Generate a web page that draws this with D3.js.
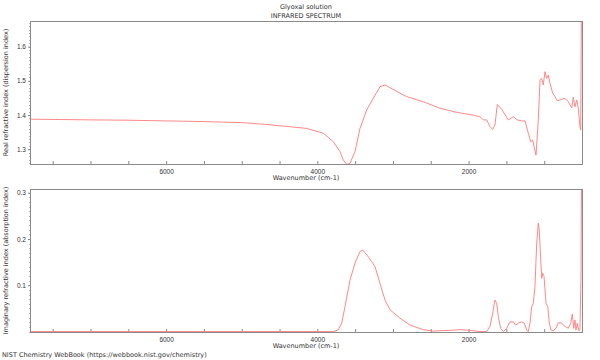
<!DOCTYPE html>
<html>
<head>
<meta charset="utf-8">
<script src="https://cdn.jsdelivr.net/npm/d3@7"></script>
<style>
  html, body { margin: 0; padding: 0; background: #ffffff; }
  svg { display: block; font-family: "DejaVu Sans", sans-serif; }
</style>
</head>
<body>
<svg id="chart" width="600" height="360"></svg>
<script>
// wavenumber (cm-1) and real refractive index n
const realWn = [7800, 7400, 7000, 6500, 6000, 5500, 5000, 4700, 4362, 4141, 3921, 3789, 3700, 3657, 3612, 3568, 3502, 3436, 3347, 3260, 3171, 3105, 3039, 2907, 2818, 2599, 2378, 2157, 1937, 1849, 1805, 1760, 1717, 1681, 1651, 1620, 1562, 1475, 1409, 1356, 1298, 1254, 1210, 1178, 1152, 1134, 1108, 1078, 1055, 1033, 1012, 989, 967, 946, 923, 888, 857, 827, 769, 725, 681, 636, 615, 593, 570, 549, 527, 517, 500];
const realN = [1.388, 1.387, 1.386, 1.385, 1.383, 1.381, 1.378, 1.373, 1.366, 1.361, 1.347, 1.322, 1.293, 1.269, 1.256, 1.259, 1.293, 1.361, 1.415, 1.449, 1.483, 1.488, 1.480, 1.464, 1.454, 1.439, 1.420, 1.408, 1.400, 1.395, 1.386, 1.386, 1.366, 1.358, 1.371, 1.431, 1.417, 1.386, 1.395, 1.386, 1.383, 1.383, 1.347, 1.322, 1.327, 1.307, 1.283, 1.386, 1.502, 1.507, 1.488, 1.527, 1.507, 1.517, 1.493, 1.464, 1.454, 1.442, 1.446, 1.449, 1.439, 1.421, 1.452, 1.424, 1.444, 1.420, 1.366, 1.356, 2.0];

// wavenumber (cm-1) and imaginary refractive index k
const imagWn = [7800, 6000, 5000, 4200, 3789, 3723, 3678, 3634, 3568, 3502, 3436, 3400, 3347, 3281, 3237, 3171, 3105, 3039, 2907, 2775, 2600, 2467, 2338, 2200, 2113, 2021, 1900, 1849, 1760, 1717, 1681, 1651, 1628, 1607, 1575, 1541, 1496, 1452, 1409, 1377, 1342, 1298, 1263, 1231, 1210, 1188, 1165, 1144, 1122, 1099, 1078, 1065, 1046, 1033, 1020, 1002, 976, 953, 932, 910, 880, 844, 814, 769, 725, 681, 649, 628, 610, 593, 580, 562, 544, 527, 513, 500];
const imagK = [0, 0, 0, 0, 0, 0.0035, 0.018, 0.054, 0.111, 0.148, 0.173, 0.176, 0.166, 0.151, 0.140, 0.104, 0.068, 0.047, 0.029, 0.014, 0.004, 0.001, 0.002, 0.003, 0.004, 0.003, 0.001, 0, 0, 0.011, 0.040, 0.068, 0.061, 0.032, 0.007, 0, 0.007, 0.021, 0.021, 0.014, 0.018, 0.021, 0.018, 0.003, 0, 0.018, 0.054, 0.061, 0.097, 0.191, 0.234, 0.219, 0.155, 0.115, 0.126, 0.119, 0.061, 0.054, 0.018, 0.0035, 0.002, 0.007, 0.019, 0.018, 0.011, 0.007, 0.018, 0.038, 0.007, 0.025, 0.0035, 0.018, 0.002, 0.0035, 0.12, 0.5];

const xTicks = [2000, 4000, 6000];
const realTicks = [1.3, 1.4, 1.5, 1.6];
const imagTicks = [0.1, 0.2, 0.3];

const svg = d3.select("#chart");
const left = 30, right = 582;
const lineColor = "#ff7a7a";
const frameColor = "#8a8a8a";

const x = d3.scaleLinear().domain([7800, 500]).range([left, right]);

function panel(id, top, bottom, yDomain, ticks, minorStep, wn, vals, yLabel) {
  const y = d3.scaleLinear().domain(yDomain).range([bottom, top]);
  const g = svg.append("g");

  g.append("clipPath").attr("id", id)
    .append("rect").attr("x", left).attr("y", top)
    .attr("width", right - left).attr("height", bottom - top);

  // minor y ticks
  const minor = d3.range(Math.ceil(yDomain[0] / minorStep), Math.floor(yDomain[1] / minorStep) + 1)
    .map(i => i * minorStep);
  g.selectAll(".ymin").data(minor).enter().append("line")
    .attr("x1", left - 1).attr("x2", left)
    .attr("y1", d => Math.round(y(d)) + 0.5).attr("y2", d => Math.round(y(d)) + 0.5)
    .attr("stroke", frameColor).attr("stroke-width", 0.6);

  const yAxis = d3.axisLeft(y).tickValues(ticks).tickSize(2).tickPadding(2)
    .tickFormat(d3.format(".1f"));
  const ya = g.append("g").attr("transform", `translate(${left},0)`).call(yAxis);
  ya.select(".domain").remove();
  ya.selectAll("line").attr("stroke", frameColor);
  ya.selectAll("text").attr("font-size", "6.5px").attr("fill", "#333");

  const xAxis = d3.axisBottom(x).tickValues(d3.range(500, 7801, 500))
    .tickSize(-3).tickPadding(5)
    .tickFormat(d => xTicks.includes(d) ? d : "");
  const xa = g.append("g").attr("transform", `translate(0,${bottom})`).call(xAxis);
  xa.select(".domain").remove();
  xa.selectAll("line").attr("stroke", frameColor);
  xa.selectAll("text").attr("font-size", "6.5px").attr("fill", "#333");

  const line = d3.line().x((d, i) => x(wn[i])).y(d => y(d));
  g.append("path").datum(vals)
    .attr("d", line)
    .attr("fill", "none")
    .attr("stroke", lineColor)
    .attr("stroke-width", 0.9)
    .attr("clip-path", `url(#${id})`);

  g.append("rect")
    .attr("x", left + 0.5).attr("y", top + 0.5)
    .attr("width", right - left).attr("height", bottom - top)
    .attr("fill", "none").attr("stroke", frameColor).attr("stroke-width", 1);

  g.append("text")
    .attr("x", (left + right) / 2).attr("y", bottom + 16)
    .attr("text-anchor", "middle").attr("font-size", "6.5px").attr("fill", "#333")
    .text("Wavenumber (cm-1)");

  g.append("text")
    .attr("transform", `translate(8,${(top + bottom) / 2}) rotate(-90)`)
    .attr("text-anchor", "middle").attr("font-size", "6.5px").attr("fill", "#333")
    .text(yLabel);
}

svg.append("text").attr("x", (left + right) / 2).attr("y", 9)
  .attr("text-anchor", "middle").attr("font-size", "6.5px").attr("fill", "#333")
  .text("Glyoxal solution");
svg.append("text").attr("x", (left + right) / 2).attr("y", 18)
  .attr("text-anchor", "middle").attr("font-size", "6.5px").attr("fill", "#333")
  .text("INFRARED SPECTRUM");

panel("clipReal", 21, 164, [1.257, 1.675], realTicks, 0.01, realWn, realN,
  "Real refractive index (dispersion index)");
panel("clipImag", 189, 332, [-0.001, 0.308], imagTicks, 0.01, imagWn, imagK,
  "Imaginary refractive index (absorption index)");

svg.append("text").attr("x", 2).attr("y", 357)
  .attr("font-size", "6.5px").attr("fill", "#333")
  .text("NIST Chemistry WebBook (https://webbook.nist.gov/chemistry)");
</script>
</body>
</html>
